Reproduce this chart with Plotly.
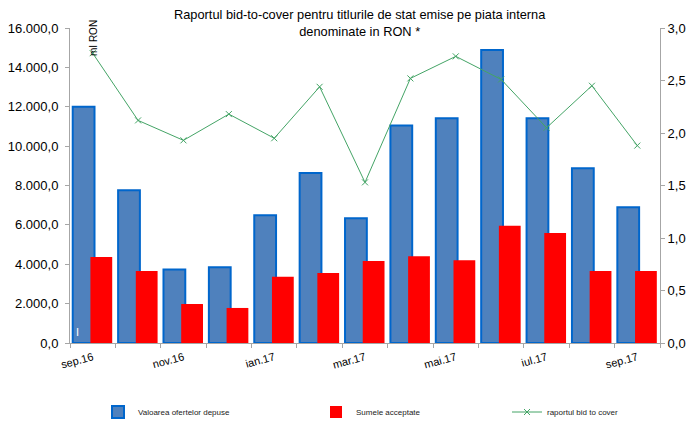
import plotly.graph_objects as go

months = ["sep.16", "oct.16", "nov.16", "dec.16", "ian.17", "feb.17", "mar.17",
          "apr.17", "mai.17", "iun.17", "iul.17", "aug.17", "sep.17"]
oferte = [12000, 7760, 3730, 3850, 6490, 8640, 6340, 11050, 11420, 14880, 11420, 8880, 6900]
acceptate = [4370, 3660, 1980, 1780, 3360, 3560, 4170, 4410, 4200, 5950, 5590, 3660, 3660]
bid_cover = [2.76, 2.12, 1.93, 2.18, 1.95, 2.44, 1.53, 2.52, 2.73, 2.51, 2.05, 2.45, 1.88]
shown_labels = ["sep.16", "nov.16", "ian.17", "mar.17", "mai.17", "iul.17", "sep.17"]

xs = list(range(len(months)))
FONT = "Liberation Sans, Arial, sans-serif"
GREEN = "#44A466"

fig = go.Figure()
fig.add_trace(go.Bar(
    x=xs, y=oferte, name="Valoarea ofertelor depuse", legend="legend",
    marker=dict(color="#4F81BD", line=dict(color="#0066CC", width=2)),
    offset=-0.44, width=0.48))
fig.add_trace(go.Bar(
    x=xs, y=acceptate, name="Sumele acceptate", legend="legend2",
    marker=dict(color="#FF0000", line=dict(width=0)),
    offset=-0.05, width=0.48))
fig.add_trace(go.Scatter(
    x=xs, y=bid_cover, name="raportul bid to cover", yaxis="y2", legend="legend3",
    mode="lines+markers",
    line=dict(color=GREEN, width=1),
    marker=dict(symbol="x-thin", size=6, line=dict(color=GREEN, width=1))))

tickvals = [months.index(m) for m in shown_labels]


def leg(px_x):
    return dict(x=(px_x - 70) / 590, y=-(412 - 343) / 315,
                xanchor="left", yanchor="middle", orientation="h",
                font=dict(size=8, color="#222222"),
                bgcolor="rgba(0,0,0,0)")


fig.update_layout(
    width=690, height=422,
    margin=dict(l=70, r=30, t=28, b=79, autoexpand=False),
    paper_bgcolor="white", plot_bgcolor="white",
    barmode="overlay",
    separators=",.",
    font=dict(family=FONT, size=11, color="#000000"),
    showlegend=True,
    legend=leg(98), legend2=leg(316), legend3=leg(507),
    xaxis=dict(range=[-0.5, 12.5], tickmode="array", tickvals=tickvals,
               ticktext=shown_labels, tickangle=-15, ticks="", ticklabelstandoff=3,
               showline=True, linecolor="#A6A6A6", linewidth=1,
               showgrid=False, zeroline=False, automargin=False,
               tickfont=dict(size=11, color="#000000"),
               minor=dict(tickmode="array", tickvals=[i - 0.5 for i in range(14)],
                          ticks="outside", ticklen=4, tickcolor="#A6A6A6", showgrid=False)),
    yaxis=dict(range=[0, 16000], dtick=2000, tickformat=",.1f",
               showline=True, linecolor="#A6A6A6", linewidth=1,
               ticks="outside", ticklen=4, tickcolor="#A6A6A6",
               showgrid=False, zeroline=False, ticklabelstandoff=4, automargin=False,
               tickfont=dict(size=13, color="#000000")),
    yaxis2=dict(range=[0, 3], dtick=0.5, tickformat=".1f", overlaying="y", side="right",
                showline=True, linecolor="#A6A6A6", linewidth=1,
                ticks="outside", ticklen=4, tickcolor="#A6A6A6",
                showgrid=False, zeroline=False, automargin=False,
                tickfont=dict(size=13, color="#000000")),
)

fig.add_annotation(
    text="Raportul bid-to-cover pentru titlurile de stat emise pe piata interna<br>denominate in RON *",
    xref="paper", yref="paper", x=(360 - 70) / 590, y=1.0 + (28 - 5) / 315,
    xanchor="center", yanchor="top", showarrow=False, align="center",
    font=dict(size=12.8, color="#000000"))
fig.add_annotation(
    text="mI RON", textangle=-90, xref="paper", yref="paper",
    x=(93 - 70) / 590, y=1.0 + (28 - 18) / 315, xanchor="center", yanchor="top",
    showarrow=False, font=dict(size=10, color="#000000"))
fig.add_annotation(
    text="I", xref="paper", yref="paper",
    x=(77 - 70) / 590, y=(343 - 332) / 315, xanchor="center", yanchor="middle",
    showarrow=False, font=dict(size=11, color="#FFFFFF"))

fig.write_html("out.html", config={"displayModeBar": False},
               post_script="document.body.style.margin='0';document.body.style.overflow='hidden';")
